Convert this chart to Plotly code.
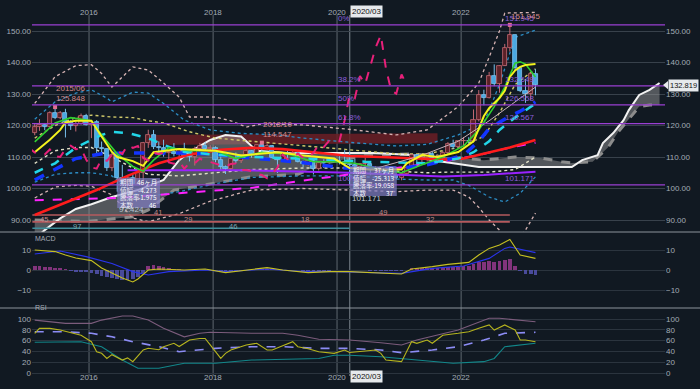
import plotly.graph_objects as go
import pandas as pd

# ================= DATA =================
# monthly candles 2015-02 .. 2023-03
OPEN = [
    117.5, 119.6, 120.1, 119.4, 124.1, 122.5, 124.0, 121.2, 119.9, 120.6, 123.1,
    120.2, 121.1, 112.7, 112.6, 106.5, 110.7, 103.2, 102.1, 103.4, 101.4, 104.8, 114.5,
    116.9, 113.1, 112.8, 111.4, 111.5, 110.8, 112.4, 110.3, 110.0, 112.5, 113.6, 112.5,
    112.7, 109.2, 106.7, 106.3, 109.3, 108.8, 110.7, 111.9, 111.0, 113.7, 112.9, 113.5,
    109.7, 108.9, 111.4, 110.9, 111.4, 108.3, 107.9, 108.6, 106.3, 108.1, 108.0, 109.5,
    108.6, 108.4, 107.9, 107.5, 106.9, 107.8, 107.9, 105.9, 105.9, 105.5, 104.7, 104.3,
    103.25, 104.7, 106.6, 110.7, 109.3, 109.6, 111.1, 109.7, 110.0, 111.3, 114.0, 113.2,
    115.1, 115.1, 115.0, 121.7, 129.7, 128.7, 135.7, 133.2, 138.95, 144.7, 148.7, 138.1,
    131.1, 130.1, 136.2]
HIGH = [
    120.5, 122.0, 120.8, 124.5, 125.848, 124.6, 125.3, 121.7, 121.5, 123.8, 123.7,
    121.7, 121.7, 114.9, 112.7, 111.4, 110.9, 107.5, 104.3, 104.3, 105.5, 114.8, 118.66,
    118.6, 114.95, 115.5, 112.2, 114.4, 112.4, 114.5, 111.0, 113.3, 114.5, 114.7, 113.75,
    113.4, 110.5, 107.3, 109.55, 111.4, 110.9, 113.2, 112.15, 113.7, 114.547, 114.2, 113.8,
    109.9, 111.5, 112.1, 112.4, 112.0, 108.8, 109.3, 109.3, 108.5, 109.3, 109.7, 109.7,
    110.3, 112.2, 111.7, 109.4, 108.1, 109.85, 108.2, 107.05, 106.55, 106.1, 105.7, 104.75,
    104.9, 106.7, 110.95, 110.95, 110.2, 111.1, 111.65, 110.8, 112.0, 114.7, 115.5, 115.2,
    116.35, 116.3, 125.1, 131.25, 131.35, 137.0, 139.4, 139.1, 145.9, 151.945, 148.8, 138.2,
    134.8, 136.9, 137.9]
LOW = [
    116.9, 118.3, 118.5, 118.9, 122.0, 122.0, 116.2, 118.6, 118.1, 120.3, 120.0,
    115.98, 110.99, 110.7, 105.55, 105.5, 99.0, 100.7, 99.5, 100.1, 101.2, 101.2, 112.9,
    112.5, 111.6, 110.1, 108.1, 110.2, 108.8, 110.6, 108.6, 107.3, 111.6, 110.8, 111.9,
    108.3, 105.55, 104.6, 105.7, 108.1, 108.1, 110.3, 109.8, 110.4, 111.4, 112.3, 109.6,
    104.9, 108.5, 109.7, 110.8, 108.3, 106.8, 107.2, 104.45, 105.7, 106.5, 107.9, 108.4,
    107.65, 107.0, 101.18, 106.4, 105.99, 106.1, 104.2, 105.1, 104.0, 104.0, 103.2, 102.9,
    102.6, 104.4, 106.4, 107.5, 108.3, 108.6, 109.1, 108.7, 109.1, 110.8, 112.5, 112.5,
    113.5, 114.2, 114.6, 121.3, 126.4, 128.6, 132.5, 130.4, 138.9, 143.5, 137.5, 130.6,
    127.2, 128.1, 129.6]
CLOSE = [
    119.6, 120.1, 119.4, 124.1, 122.5, 124.0, 121.2, 119.9, 120.6, 123.1, 120.2,
    121.1, 112.7, 112.6, 106.5, 110.7, 103.2, 102.1, 103.4, 101.4, 104.8, 114.5, 116.9,
    113.1, 112.8, 111.4, 111.5, 110.8, 112.4, 110.3, 110.0, 112.5, 113.6, 112.5, 112.7,
    109.2, 106.7, 106.3, 109.3, 108.8, 110.7, 111.9, 111.0, 113.7, 112.9, 113.5, 109.7,
    108.9, 111.4, 110.9, 111.4, 108.3, 107.9, 108.6, 106.3, 108.1, 108.0, 109.5, 108.6,
    108.4, 107.9, 107.5, 106.9, 107.8, 107.9, 105.9, 105.9, 105.5, 104.7, 104.3, 103.25,
    104.7, 106.6, 110.7, 109.3, 109.6, 111.1, 109.7, 110.0, 111.3, 114.0, 113.2, 115.1,
    115.15, 115.0, 121.7, 129.7, 128.7, 135.7, 133.2, 138.95, 144.7, 148.7, 138.1, 131.1,
    130.1, 136.2, 132.819]
FIRST_MONTH = "2015-02-15"
LAST_PRICE = 132.819
CHIKOU_SHIFT_MONTHS = 25
YEAR_LABELS = [2016, 2018, 2020, 2022]

# moving averages / ichimoku / bands (read at sparse months)
YELLOW_LINE = [("2015-02", 111.5), ("2015-05", 115.5), ("2015-07", 118.6), ("2015-08", 121.0), ("2015-10", 121.5),
               ("2016-01", 121.5), ("2016-03", 116.5), ("2016-05", 111.6), ("2016-06", 110.0), ("2016-09", 108.7),
               ("2016-11", 107.2), ("2017-01", 111.5), ("2017-06", 112.5), ("2018-01", 112.0), ("2018-06", 110.5),
               ("2019-01", 111.5), ("2019-06", 110.5), ("2019-12", 109.5), ("2020-03", 106.5), ("2020-07", 106.0),
               ("2021-01", 106.0), ("2021-02", 108.0), ("2021-05", 110.6), ("2021-08", 110.0), ("2021-12", 111.6),
               ("2022-03", 115.0), ("2022-04", 119.0), ("2022-05", 123.0), ("2022-06", 125.5), ("2022-07", 127.0),
               ("2022-08", 128.7), ("2022-09", 131.0), ("2022-10", 135.4), ("2022-11", 137.5), ("2022-12", 138.6),
               ("2023-01", 139.2), ("2023-03", 139.5)]
GREEN_LINE = [("2015-02", 114.8), ("2015-06", 120.8), ("2015-09", 122.5), ("2016-01", 121.5), ("2016-03", 117.0),
              ("2016-06", 111.0), ("2016-09", 107.0), ("2016-11", 105.5), ("2017-01", 109.0), ("2017-04", 113.0),
              ("2017-08", 112.0), ("2018-01", 112.0), ("2018-05", 109.5), ("2018-10", 111.5), ("2019-03", 111.0),
              ("2019-08", 108.5), ("2019-12", 108.5), ("2020-04", 108.0), ("2020-09", 106.0), ("2021-01", 105.0),
              ("2021-05", 107.5), ("2021-09", 110.0), ("2022-01", 113.5), ("2022-04", 118.6), ("2022-07", 126.0),
              ("2022-09", 132.2), ("2022-11", 139.8), ("2022-12", 140.2), ("2023-01", 139.5), ("2023-03", 135.4)]
CYAN_DASH = [("2015-02", 105.0), ("2015-06", 108.0), ("2015-10", 113.0), ("2016-03", 117.0), ("2016-05", 118.0),
             ("2016-08", 117.6), ("2016-12", 116.0), ("2017-03", 113.8), ("2017-07", 111.6), ("2018-02", 110.6),
             ("2018-08", 110.0), ("2019-06", 109.5), ("2020-06", 108.5), ("2021-06", 108.0), ("2021-12", 109.5),
             ("2022-03", 111.5), ("2022-06", 115.0), ("2022-08", 118.6), ("2022-11", 122.5), ("2023-03", 127.0)]
BLUE_DASH = [("2015-02", 102.7), ("2015-06", 106.0), ("2015-10", 109.5), ("2016-03", 111.0), ("2016-08", 111.3),
             ("2017-06", 111.3), ("2017-12", 111.0), ("2018-08", 109.7), ("2019-05", 108.4), ("2020-02", 106.5),
             ("2021-01", 106.5), ("2021-06", 107.5), ("2022-01", 110.5), ("2022-04", 115.0), ("2022-06", 119.0),
             ("2022-08", 121.0), ("2022-10", 123.0), ("2022-12", 124.5), ("2023-03", 127.5)]
RED_LINE = [("2015-02", 91.6), ("2015-08", 95.5), ("2016-02", 99.5), ("2016-08", 104.0), ("2017-02", 108.0),
            ("2017-08", 110.8), ("2018-02", 112.3), ("2018-08", 112.9), ("2019-02", 112.5), ("2019-08", 111.5),
            ("2020-03", 110.3), ("2020-09", 110.0), ("2021-03", 109.7), ("2021-09", 109.2), ("2022-01", 109.5),
            ("2022-05", 111.0), ("2022-10", 113.0), ("2023-03", 115.4)]
MAGENTA_DASH = [("2015-02", 96.3), ("2016-06", 97.0), ("2017-06", 98.5), ("2018-08", 100.2), ("2019-06", 102.5),
                ("2020-03", 104.5), ("2021-01", 106.5), ("2021-09", 108.5), ("2022-05", 111.0), ("2022-10", 113.0),
                ("2023-03", 114.5)]
PURPLE_LINE = [("2016-08", 105.8), ("2018-06", 105.8), ("2020-03", 105.0), ("2021-09", 103.8), ("2022-05", 104.3),
               ("2023-03", 105.3)]
TREND_LINE = [("2020-07", 105.9), ("2021-05", 110.5), ("2021-12", 115.0), ("2022-06", 121.5), ("2023-03", 132.2)]
SPAN_A = [("2015-02", 84.0), ("2015-04", 86.8), ("2015-07", 90.5), ("2015-10", 93.5), ("2016-01", 95.0),
          ("2016-05", 97.3), ("2016-10", 99.5), ("2017-01", 101.5), ("2017-03", 102.7), ("2017-06", 109.0),
          ("2017-08", 111.6), ("2017-12", 115.4), ("2018-03", 117.0), ("2018-06", 116.5), ("2018-09", 112.0),
          ("2019-03", 111.3), ("2020-08", 111.3), ("2021-03", 110.6), ("2021-07", 109.0), ("2021-11", 108.0),
          ("2022-04", 106.8), ("2023-10", 106.8), ("2023-12", 109.0), ("2024-03", 110.6), ("2024-04", 114.4),
          ("2024-06", 117.6), ("2024-08", 121.7), ("2024-09", 124.9), ("2024-11", 129.7), ("2025-01", 131.3),
          ("2025-03", 133.5)]
SPAN_B = [("2015-02", 90.0), ("2015-12", 89.5), ("2016-09", 91.0), ("2016-12", 93.2), ("2017-05", 99.5),
          ("2017-09", 100.6), ("2018-08", 103.7), ("2019-05", 104.5), ("2019-10", 108.0), ("2020-06", 110.5),
          ("2021-03", 111.0), ("2021-10", 110.0), ("2022-05", 109.0), ("2022-11", 110.0), ("2023-04", 109.7),
          ("2023-08", 108.5), ("2023-10", 108.1), ("2024-02", 108.5), ("2024-03", 110.0), ("2024-05", 113.0),
          ("2024-07", 118.0), ("2024-09", 122.0), ("2024-11", 126.0), ("2025-01", 126.5), ("2025-03", 126.5)]
BAND_TOP = [("2016-12", 117.0), ("2021-08", 117.5)]
BAND_BOTTOM = [("2016-12", 113.8), ("2021-08", 114.4)]
BB_U3 = [("2015-02", 127.0), ("2015-06", 135.5), ("2015-10", 139.0), ("2016-01", 139.3), ("2016-03", 136.5),
         ("2016-05", 132.2), ("2016-07", 135.4), ("2016-09", 138.6), ("2016-12", 137.6), ("2017-03", 133.5),
         ("2017-06", 129.0), ("2017-08", 122.7), ("2018-01", 122.7), ("2018-04", 121.5), ("2018-07", 119.5),
         ("2018-10", 120.5), ("2019-06", 120.2), ("2020-04", 118.6), ("2020-12", 117.0), ("2021-06", 118.6),
         ("2021-12", 126.0), ("2022-04", 133.5), ("2022-06", 141.7), ("2022-08", 150.0), ("2022-09", 155.7),
         ("2023-03", 155.9)]
BB_U2 = [("2015-02", 122.0), ("2015-06", 127.5), ("2015-10", 130.3), ("2016-01", 131.3), ("2016-04", 128.7),
         ("2016-05", 127.5), ("2016-09", 130.6), ("2016-12", 130.3), ("2017-03", 127.0), ("2017-07", 121.7),
         ("2017-12", 118.6), ("2018-06", 117.5), ("2019-01", 117.0), ("2019-06", 116.0), ("2020-04", 114.5),
         ("2020-12", 113.5), ("2021-06", 114.0), ("2021-12", 117.0), ("2022-05", 120.8), ("2022-08", 133.0),
         ("2022-11", 148.0), ("2023-03", 150.3)]
BB_U1 = [("2015-02", 116.0), ("2015-06", 120.0), ("2015-10", 122.5), ("2016-01", 123.3), ("2016-05", 122.7),
         ("2016-09", 122.5), ("2016-12", 121.5), ("2017-03", 120.8), ("2017-08", 118.0), ("2018-01", 116.0),
         ("2018-08", 115.0), ("2019-06", 113.5), ("2020-04", 112.0), ("2020-12", 111.0), ("2021-06", 111.0),
         ("2021-12", 113.0), ("2022-05", 116.5), ("2022-08", 124.0), ("2022-11", 133.0), ("2023-03", 138.0)]
BB_L1 = [("2015-02", 108.0), ("2015-06", 112.0), ("2015-10", 113.0), ("2016-01", 113.0), ("2016-05", 110.0),
         ("2016-09", 106.5), ("2016-12", 104.5), ("2017-06", 104.0), ("2018-01", 105.0), ("2018-08", 106.0),
         ("2019-06", 106.5), ("2020-04", 106.5), ("2020-12", 105.5), ("2021-06", 105.0), ("2021-10", 105.2),
         ("2022-06", 105.2), ("2022-11", 106.0), ("2023-03", 110.0)]
BB_L2 = [("2015-02", 102.0), ("2015-06", 104.5), ("2015-10", 105.0), ("2016-01", 105.0), ("2016-05", 104.0),
         ("2016-09", 98.6), ("2016-12", 97.5), ("2017-06", 99.0), ("2018-01", 101.5), ("2018-08", 103.5),
         ("2019-06", 104.0), ("2020-04", 104.0), ("2020-12", 103.0), ("2021-06", 102.7), ("2021-11", 102.7),
         ("2022-02", 101.0), ("2022-06", 97.3), ("2022-09", 95.7), ("2022-12", 98.5), ("2023-03", 103.7)]
BB_L3 = [("2015-02", 97.0), ("2015-06", 100.5), ("2015-10", 101.0), ("2016-01", 100.7), ("2016-05", 98.0),
         ("2016-09", 90.6), ("2016-12", 89.5), ("2017-06", 92.0), ("2017-12", 96.0), ("2018-08", 99.5),
         ("2019-06", 100.0), ("2020-04", 99.5), ("2020-12", 99.0), ("2021-06", 99.5), ("2021-11", 99.5),
         ("2022-02", 97.3), ("2022-04", 94.0), ("2022-06", 90.0), ("2022-08", 86.8), ("2022-10", 80.0),
         ("2023-01", 86.8), ("2023-03", 92.2)]

# Fibonacci retracement
FIB_HIGH = 151.945
FIB_LOW = 101.171
FIB_RATIOS = [0.0, 0.382, 0.5, 0.618, 1.0]
FIB_NAMES = ["0%", "38.2%", "50%", "61.8%", "100%"]

# period bars (bottom of price panel)
PERIOD_LEVELS = [91.6, 89.4, 87.4]
PERIOD_STARTS = ["2015-02-01", "2015-02-01", "2015-02-01"]
PERIOD_ENDS = ["2022-10-15", "2022-10-15", "2020-03-15"]
PERIOD_TEXT = [("2017-02-11", 92.3, "41", 0), ("2020-09-27", 92.3, "49", 0),
               ("2015-04-13", 90.1, "45", 1), ("2017-08-07", 90.1, "29", 1),
               ("2019-06-26", 90.1, "18", 1), ("2021-07-01", 90.1, "32", 1),
               ("2015-10-20", 88.0, "97", 2), ("2018-04-27", 88.0, "46", 2)]

# measurement tooltips
TIP_KEYS = ["期間", "値幅", "騰落率", "本数"]
TIP1_VALS = ["46ヶ月", "-4.273", "-1.975", "46"]
TIP2_VALS = ["37ヶ月", "-25.313", "-19.058", "37"]

# MACD
MACD_LINE = [("2015-02", 10.0), ("2015-06", 9.2), ("2015-08", 7.5), ("2015-10", 6.0), ("2016-01", 4.7),
             ("2016-03", 1.0), ("2016-05", -1.5), ("2016-07", -4.0), ("2016-09", -6.0), ("2016-10", -4.5),
             ("2016-12", 0.0), ("2017-02", 0.5), ("2017-07", 0.0), ("2017-11", 0.5), ("2018-03", -1.3),
             ("2018-07", 0.0), ("2018-11", 1.2), ("2019-02", 0.0), ("2019-07", -1.3), ("2019-11", -0.8),
             ("2020-03", -0.8), ("2021-01", -2.0), ("2021-03", 0.5), ("2021-07", 1.7), ("2021-10", 2.8),
             ("2022-02", 3.8), ("2022-04", 7.5), ("2022-06", 10.8), ("2022-08", 12.5), ("2022-10", 15.3),
             ("2022-12", 7.5), ("2023-03", 5.8)]
MACD_SIGNAL = [("2015-02", 8.0), ("2015-07", 9.5), ("2015-12", 6.7), ("2016-05", 3.3), ("2016-09", -0.8),
               ("2016-12", -2.5), ("2017-04", -0.8), ("2017-11", 0.0), ("2018-03", -0.8), ("2018-11", 0.5),
               ("2019-06", -0.8), ("2019-12", -0.8), ("2021-01", -1.7), ("2021-07", 0.8), ("2022-01", 2.0),
               ("2022-06", 5.8), ("2022-09", 10.8), ("2022-10", 11.5), ("2023-03", 8.7)]
MACD_HIST = [
    1.8, 1.8, 1.6, 1.4, 1.2, 0.8, 0.4, -0.5, -0.8, -1.0, -1.2,
    -1.5, -2.2, -2.8, -3.5, -3.8, -4.5, -4.8, -5.0, -4.5, -3.5, -1.5, 2.0,
    2.5, 2.2, 1.5, 0.8, 0.5, 0.3, 0.2, 0.1, 0.1, 0.2, 0.2, 0.1,
    0.0, -0.3, -0.6, -0.6, -0.5, -0.4, -0.2, -0.1, 0.1, 0.3, 0.4, 0.3,
    0.1, 0.0, 0.0, 0.0, -0.1, -0.3, -0.3, -0.5, -0.5, -0.4, -0.3, -0.2,
    -0.1, 0.0, -0.1, -0.2, -0.2, -0.2, -0.3, -0.4, -0.5, -0.6, -0.6, -0.6,
    -0.4, 0.2, 0.8, 1.0, 1.0, 1.1, 1.0, 1.0, 1.1, 1.5, 1.6, 1.7,
    1.8, 1.8, 2.8, 4.0, 4.0, 4.5, 4.2, 4.5, 5.0, 5.5, 2.0, -0.5,
    -2.0, -2.2, -2.5]

# RSI
RSI_LINE = [("2015-02", 73.5), ("2015-03", 82.7), ("2015-05", 82.7), ("2015-07", 79.6), ("2015-11", 70.0),
            ("2016-01", 58.0), ("2016-02", 39.5), ("2016-03", 36.4), ("2016-04", 27.0), ("2016-05", 34.0),
            ("2016-07", 24.0), ("2016-08", 28.0), ("2016-09", 21.0), ("2016-11", 42.6), ("2016-12", 45.7),
            ("2017-02", 43.0), ("2017-03", 48.7), ("2017-05", 55.0), ("2017-06", 49.0), ("2017-08", 61.0),
            ("2017-10", 64.0), ("2017-11", 64.0), ("2017-12", 52.0), ("2018-02", 27.0), ("2018-03", 36.4),
            ("2018-04", 42.6), ("2018-07", 52.0), ("2018-09", 55.0), ("2018-11", 42.6), ("2018-12", 42.6),
            ("2019-04", 58.0), ("2019-05", 48.7), ("2019-07", 45.0), ("2019-09", 39.5), ("2019-12", 36.4),
            ("2020-02", 42.6), ("2020-03", 38.0), ("2020-05", 39.5), ("2020-08", 42.6), ("2020-09", 36.4),
            ("2020-10", 24.0), ("2021-01", 21.0), ("2021-03", 58.0), ("2021-04", 55.0), ("2021-06", 61.0),
            ("2021-07", 55.0), ("2021-09", 70.0), ("2021-12", 73.5), ("2022-02", 76.5), ("2022-04", 82.7),
            ("2022-06", 89.0), ("2022-07", 79.6), ("2022-09", 89.0), ("2022-11", 79.6), ("2022-12", 61.0),
            ("2023-01", 61.0), ("2023-03", 58.0)]
RSI_AVG = [("2015-02", 76.5), ("2015-08", 76.5), ("2016-01", 73.5), ("2016-05", 67.0), ("2016-09", 58.0),
           ("2017-02", 48.7), ("2017-06", 39.5), ("2017-10", 42.6), ("2018-01", 45.7), ("2018-08", 48.7),
           ("2019-02", 48.7), ("2019-09", 45.7), ("2020-03", 45.7), ("2020-09", 42.6), ("2021-01", 37.6),
           ("2021-07", 42.6), ("2021-12", 48.7), ("2022-05", 61.0), ("2022-09", 73.5), ("2023-03", 75.4)]
RSI_UPPER = [("2015-02", 98.0), ("2015-08", 92.0), ("2016-01", 92.0), ("2016-03", 98.0), ("2016-07", 105.6),
             ("2016-09", 105.6), ("2016-12", 98.0), ("2017-03", 82.7), ("2017-07", 67.0), ("2017-10", 73.5),
             ("2017-12", 75.4), ("2018-08", 73.5), ("2019-02", 73.5), ("2019-05", 70.0), ("2019-09", 62.4),
             ("2020-03", 61.0), ("2020-09", 56.0), ("2021-01", 51.8), ("2021-04", 61.0), ("2021-12", 79.6),
             ("2022-06", 101.3), ("2022-08", 101.3), ("2023-03", 95.0)]
RSI_LOWER = [("2015-02", 57.0), ("2015-11", 58.0), ("2016-03", 48.7), ("2016-07", 24.0), ("2016-10", 8.7),
             ("2017-02", 8.7), ("2017-07", 18.0), ("2018-01", 18.0), ("2018-08", 24.0), ("2019-05", 27.0),
             ("2019-09", 27.0), ("2019-12", 33.0), ("2020-03", 33.0), ("2020-09", 30.0), ("2021-04", 24.0),
             ("2021-11", 18.0), ("2022-05", 21.0), ("2022-07", 27.0), ("2022-09", 48.7), ("2023-03", 55.0)]

# ================= LAYOUT GEOMETRY =================
W, H = 700, 389
ML, MR, MT, MB = 32, 35, 0, 14
PH = H - MT - MB
PW = W - ML - MR


def py(pix):
    return (H - MB - pix) / PH


def px(pix):
    return (pix - ML) / PW


MAIN_DOM = [py(232), 1.0]
MACD_DOM = [py(308), py(232)]
RSI_DOM = [0.0, py(308)]
X_RANGE = ["2015-01-30", "2025-04-16"]
MAIN_RANGE = [86.19, 159.84]

BG = "#111922"
TXT = "#a3acb5"
FONT = "Liberation Sans, DejaVu Sans, sans-serif"
JFONT = "Noto Sans CJK JP, sans-serif"

MONTHS = [d.strftime("%Y-%m-%d") for d in
          pd.date_range(FIRST_MONTH, periods=len(CLOSE), freq=pd.DateOffset(months=1))]
CHIKOU_X = [(pd.Timestamp(m) - pd.DateOffset(months=CHIKOU_SHIFT_MONTHS)).strftime("%Y-%m-%d") for m in MONTHS]

DAY_MS = 86400000

fig = go.Figure()


def xs(pairs):
    return [p[0] + "-15" for p in pairs]


def ys(pairs):
    return [p[1] for p in pairs]


def add_line(pairs, color, width, dash=None, xa="x", ya="y", z=4, **kw):
    fig.add_trace(go.Scatter(x=xs(pairs), y=ys(pairs), mode="lines",
                             line=dict(color=color, width=width, dash=dash),
                             xaxis=xa, yaxis=ya, hoverinfo="skip", showlegend=False, zorder=z, **kw))


# --- dark red band
add_line(BAND_BOTTOM, "rgba(0,0,0,0)", 0, z=0)
add_line(BAND_TOP, "rgba(0,0,0,0)", 0, z=0, fill="tonexty", fillcolor="rgba(108,30,36,0.85)")
# --- ichimoku cloud
add_line(SPAN_B, "#8c8c8c", 3, dash="dash", z=1)
add_line(SPAN_A, "#f2f2f2", 2, z=1, fill="tonexty", fillcolor="rgba(150,150,150,0.5)")

# --- bollinger bands
add_line(BB_U3, "#d7b4b4", 1.3, dash="dot", z=1)
add_line(BB_L3, "#d7b4b4", 1.3, dash="dot", z=1)
add_line(BB_U2, "#2c8cc4", 1.3, dash="dot", z=1)
add_line(BB_L2, "#2c8cc4", 1.3, dash="dot", z=1)
add_line(BB_U1, "#cfc86a", 1.4, dash="dot", z=1)
add_line(BB_L1, "#e0e0c8", 1.4, dash="dot", z=1)

# --- period bars
PERIOD_COLORS = ["#b45a5e", "#b45a5e", "#3f8e9b"]
for i in range(len(PERIOD_LEVELS)):
    fig.add_trace(go.Scatter(x=[PERIOD_STARTS[i], PERIOD_ENDS[i]], y=[PERIOD_LEVELS[i]] * 2, mode="lines",
                             line=dict(color=PERIOD_COLORS[i], width=1.6), hoverinfo="skip",
                             showlegend=False, zorder=1))

# --- candles
up = [c >= o for o, c in zip(OPEN, CLOSE)]
for is_up, wcol in ((True, "#c46a74"), (False, "#78c0ec")):
    wx, wy = [], []
    for m, h, l, u in zip(MONTHS, HIGH, LOW, up):
        if u == is_up:
            wx += [m, m, None]
            wy += [l, h, None]
    fig.add_trace(go.Scatter(x=wx, y=wy, mode="lines", line=dict(color=wcol, width=1),
                             hoverinfo="skip", showlegend=False, zorder=2))
fig.add_trace(go.Bar(
    x=MONTHS, y=[max(abs(c - o), 0.12) for o, c in zip(OPEN, CLOSE)],
    base=[min(o, c) for o, c in zip(OPEN, CLOSE)],
    width=24 * DAY_MS,
    marker=dict(color=["#5a2128" if u else "#4aa8e2" for u in up],
                line=dict(color=["#c46a74" if u else "#7cc2ee" for u in up], width=0.8)),
    hoverinfo="skip", showlegend=False, zorder=3))

# --- moving averages etc.
add_line(PURPLE_LINE, "#9a22ff", 2)
add_line(MAGENTA_DASH, "#ff22ff", 2, dash="dash")
add_line(RED_LINE, "#ff1c1c", 2.6)
add_line(BLUE_DASH, "#1234ff", 3.5, dash="dash")
add_line(CYAN_DASH, "#22d6e8", 2.5, dash="dash")
add_line(TREND_LINE, "#c8b0b8", 1)
add_line(GREEN_LINE, "#2fd02f", 1.6)
add_line(YELLOW_LINE, "#f4f41e", 2)
fig.add_trace(go.Scatter(x=CHIKOU_X, y=CLOSE, mode="lines", line=dict(color="#e8207a", width=2, dash="dash"),
                         hoverinfo="skip", showlegend=False, zorder=4))

# --- high markers
hi_idx = [MONTHS.index(m) for m in ("2015-06-15", "2018-10-15", "2022-10-15")]
fig.add_trace(go.Scatter(x=[MONTHS[i] for i in hi_idx], y=[HIGH[i] for i in hi_idx], mode="markers",
                         marker=dict(symbol="square", size=4, color="#e07090"),
                         hoverinfo="skip", showlegend=False, zorder=5))

# --- right-side overlay axes helpers (invisible one-point traces)
for ya, xa, yv in (("y4", "x", 100), ("y5", "x2", 0), ("y6", "x3", 50)):
    fig.add_trace(go.Scatter(x=[MONTHS[0]], y=[yv], mode="lines", xaxis=xa, yaxis=ya,
                             hoverinfo="skip", showlegend=False))

# --- MACD
fig.add_trace(go.Bar(x=MONTHS, y=MACD_HIST, width=22 * DAY_MS, xaxis="x2", yaxis="y2",
                     marker=dict(color=["rgba(150,58,140,0.85)" if v >= 0 else "rgba(84,84,176,0.85)"
                                        for v in MACD_HIST], line=dict(width=0)),
                     hoverinfo="skip", showlegend=False))
add_line(MACD_SIGNAL, "#2a34ee", 1.1, xa="x2", ya="y2")
add_line(MACD_LINE, "#c6c021", 1.1, xa="x2", ya="y2")

# --- RSI
add_line(RSI_UPPER, "#7c5c7c", 1.1, xa="x3", ya="y3")
add_line(RSI_LOWER, "#12878a", 1.1, xa="x3", ya="y3")
add_line(RSI_AVG, "#8c8cf4", 1.6, dash="dash", xa="x3", ya="y3")
add_line(RSI_LINE, "#b6b41e", 1.1, xa="x3", ya="y3")

# ================= SHAPES & ANNOTATIONS =================
shapes, annos = [], []
# vertical year grid + crosshair
for yr in YEAR_LABELS:
    shapes.append(dict(type="line", xref="x", yref="paper", x0=f"{yr}-01-01", x1=f"{yr}-01-01",
                       y0=py(376), y1=py(15), line=dict(color="#5f6870", width=1), layer="below"))
    for yy in (py(6), py(384)):
        annos.append(dict(x=f"{yr}-01-01", y=yy, xref="x", yref="paper", text=str(yr), showarrow=False,
                          font=dict(size=8, color=TXT, family=FONT)))
shapes.append(dict(type="line", xref="x", yref="paper", x0="2020-03-16", x1="2020-03-16",
                   y0=py(376), y1=py(15), line=dict(color="#7d868e", width=1), layer="below"))
for yy in (py(5), py(383)):
    annos.append(dict(x="2020-03-16", y=yy, xref="x", yref="paper", text="2020/03", showarrow=False,
                      xanchor="left", bgcolor="#e6e9ec", font=dict(size=8, color="#111", family=FONT),
                      borderpad=1))
# panel separators
for yp in (232, 308):
    shapes.append(dict(type="line", xref="paper", yref="paper", x0=px(0), x1=px(W), y0=py(yp), y1=py(yp),
                       line=dict(color="#8d949b", width=1)))
annos.append(dict(x=px(33), y=py(238), xref="paper", yref="paper", text="MACD", showarrow=False,
                  xanchor="left", font=dict(size=7, color=TXT, family=FONT)))
annos.append(dict(x=px(33), y=py(313), xref="paper", yref="paper", text="RSI", showarrow=False,
                  xanchor="left", font=dict(size=7, color=TXT, family=FONT)))

# fibonacci
for r, name in zip(FIB_RATIOS, FIB_NAMES):
    lv = FIB_HIGH - r * (FIB_HIGH - FIB_LOW)
    shapes.append(dict(type="line", xref="paper", yref="y", x0=0, x1=1, y0=lv, y1=lv,
                       line=dict(color="#9a3fd2", width=1.2), layer="above"))
    annos.append(dict(x="2019-12-25", y=lv, xref="x", yref="y", text=name, showarrow=False, xanchor="left",
                      yanchor="bottom", font=dict(size=8, color="#8c5fdc", family=FONT)))
    annos.append(dict(x="2022-09-05", y=lv, xref="x", yref="y", text=f"{lv:.3f}", showarrow=False,
                      xanchor="left", yanchor="bottom", font=dict(size=8, color="#8c5fdc", family=FONT)))

# high labels
for i, dx in zip(hi_idx, ("2015-06-10", "2018-10-10", "2022-10-10")):
    txt = f"{MONTHS[i][:4]}/{MONTHS[i][5:7]}<br>{HIGH[i]:.3f}" if i != hi_idx[-1] else f"{HIGH[i]:.3f}"
    annos.append(dict(x=dx, y=HIGH[i], xref="x", yref="y", text=txt, showarrow=False, xanchor="left",
                      yanchor="bottom", yshift=2, align="left",
                      font=dict(size=8, color="#d48a8a", family=FONT)))
# low labels
annos.append(dict(x="2016-06-15", y=93.2, xref="x", yref="y", text="97.424", showarrow=False, xanchor="left",
                  font=dict(size=8, color="#b4c2d0", family=FONT)))
annos.append(dict(x="2020-03-17", y=96.7, xref="x", yref="y", text="101.171", showarrow=False, xanchor="left",
                  font=dict(size=8, color="#c4ccd4", family=FONT)))

# tooltips
for (x0, x1, top, bot), vals in ((("2016-06-15", "2017-02-22", 103.3, 93.8), TIP1_VALS),
                                 (("2020-03-17", "2020-12-18", 107.1, 97.6), TIP2_VALS)):
    shapes.append(dict(type="rect", xref="x", yref="y", x0=x0, x1=x1, y0=bot, y1=top,
                       fillcolor="rgba(128,124,192,0.72)", line=dict(width=0), layer="above"))
    step = (top - bot) / 4.0
    for k, (key, val) in enumerate(zip(TIP_KEYS, vals)):
        yv = top - (k + 0.55) * step
        annos.append(dict(x=x0, y=yv, xref="x", yref="y", text=key, showarrow=False, xanchor="left", xshift=1,
                          font=dict(size=6.5, color="#eeeef6", family=JFONT)))
        annos.append(dict(x=x1, y=yv, xref="x", yref="y", text=val, showarrow=False, xanchor="right",
                          xshift=-1, font=dict(size=6.5, color="#ffffff", family=JFONT)))

# period labels
for dx, yv, t, k in PERIOD_TEXT:
    annos.append(dict(x=dx, y=yv, xref="x", yref="y", text=t, showarrow=False,
                      font=dict(size=7.5, color=["#c08a8a", "#c08a8a", "#7fa8b0"][k], family=FONT)))

# last price tag (right-aligned to the page edge)
annos.append(dict(x=px(W - 1), y=LAST_PRICE, xref="paper", yref="y", text=f"{LAST_PRICE:.3f}",
                  showarrow=False, xanchor="right", bgcolor="#e6e9ec", borderpad=1,
                  font=dict(size=7.5, color="#111", family=FONT)))
shapes.append(dict(type="path", xref="paper", yref="y",
                   path=f"M {px(663)} {LAST_PRICE} L {px(668)} {LAST_PRICE + 1.3} "
                        f"L {px(668)} {LAST_PRICE - 1.3} Z",
                   fillcolor="#e6e9ec", line=dict(width=0)))

tickfont = dict(size=8, color=TXT, family=FONT)
common_x = dict(type="date", showgrid=False, zeroline=False, showline=False, ticks="", automargin=False,
                showticklabels=False)

fig.update_layout(
    width=W, height=H, margin=dict(l=ML, r=MR, t=MT, b=MB),
    paper_bgcolor=BG, plot_bgcolor=BG, showlegend=False, bargap=0,
    xaxis=dict(domain=[0, 1], anchor="y", range=X_RANGE, rangeslider=dict(visible=False), **common_x),
    xaxis2=dict(domain=[0, 1], anchor="y2", matches="x", **common_x),
    xaxis3=dict(domain=[0, 1], anchor="y3", matches="x", **common_x),
    yaxis=dict(domain=MAIN_DOM, range=MAIN_RANGE, tickvals=[90, 100, 110, 120, 130, 140, 150],
               tickformat=".2f", gridcolor="#38414b", gridwidth=1, zeroline=False, tickfont=tickfont,
               automargin=False, anchor="x"),
    yaxis4=dict(overlaying="y", side="right", anchor="x", range=MAIN_RANGE,
                tickvals=[90, 100, 110, 120, 130, 140, 150], tickformat=".2f", showgrid=False,
                zeroline=False, tickfont=tickfont, automargin=False),
    yaxis2=dict(domain=MACD_DOM, range=[-19, 19], tickvals=[-10, 0, 10], gridcolor="#2b343e",
                zeroline=False, tickfont=tickfont, automargin=False, anchor="x2"),
    yaxis5=dict(overlaying="y2", side="right", anchor="x2", range=[-19, 19], tickvals=[-10, 0, 10],
                showgrid=False, zeroline=False, tickfont=tickfont, automargin=False),
    yaxis3=dict(domain=RSI_DOM, range=[-3.7, 120.4], tickvals=[0, 20, 40, 60, 80, 100], gridcolor="#2b343e",
                zeroline=False, tickfont=tickfont, automargin=False, anchor="x3"),
    yaxis6=dict(overlaying="y3", side="right", anchor="x3", range=[-3.7, 120.4],
                tickvals=[0, 20, 40, 60, 80, 100], showgrid=False, zeroline=False, tickfont=tickfont,
                automargin=False),
    shapes=shapes, annotations=annos,
)

fig.write_html("out.html", config={"displayModeBar": False},
               post_script="document.body.style.margin='0';document.body.style.background='" + BG + "';")
